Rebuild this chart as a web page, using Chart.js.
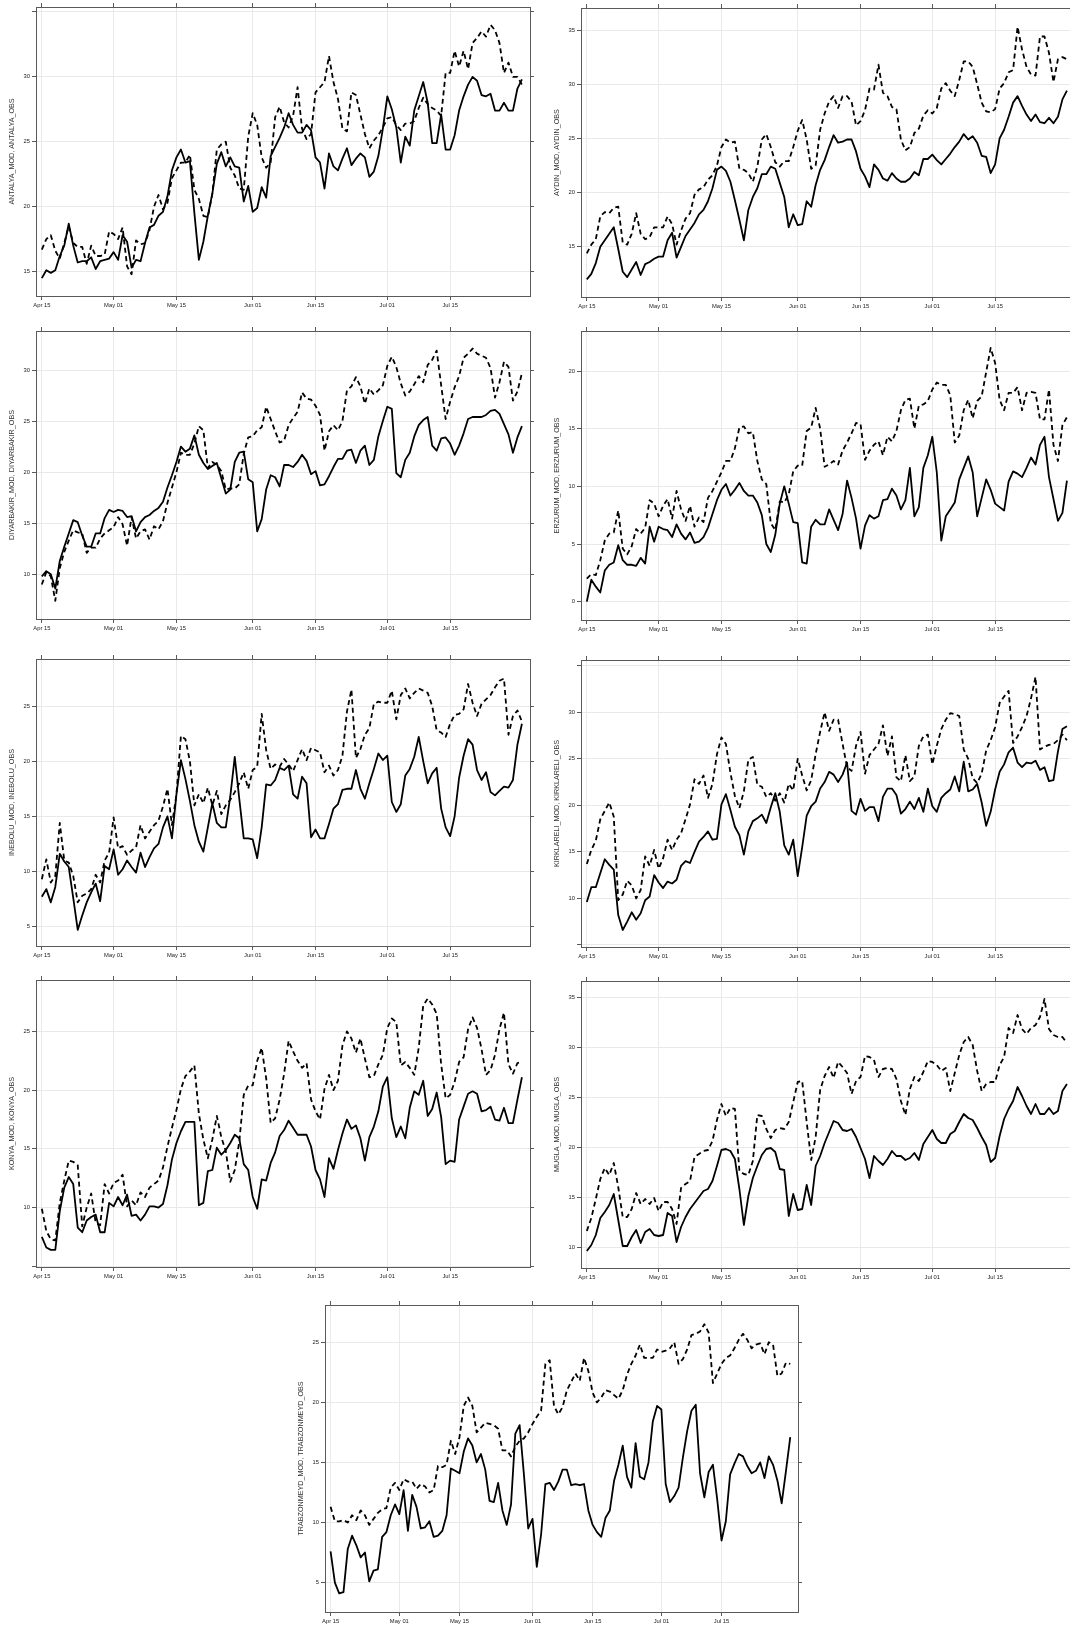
<!DOCTYPE html>
<html>
<head>
<meta charset="utf-8">
<script src="https://cdn.jsdelivr.net/npm/chart.js@4.4.1/dist/chart.umd.min.js"></script>
<style>
  html, body { margin: 0; padding: 0; background: #fff; overflow: hidden; }
  body { position: relative; width: 1070px; height: 1627px; }
  canvas { position: absolute; }
</style>
</head>
<body>
<script>
// daily series, Apr 15 .. Jul 31 (index 0 = Apr 15)
const tickDays = [0, 16, 30, 47, 61, 77, 91];
const tickLabels = ['Apr 15', 'May 01', 'May 15', 'Jun 01', 'Jun 15', 'Jul 01', 'Jul 15'];

const antalyaMod = [14.5, 15.1, 14.9, 15.1, 16.2, 17.0, 18.7, 17.0, 15.7, 15.8,
  15.8, 16.1, 15.2, 15.8, 15.9, 16.0, 16.5, 15.9, 17.8, 17.3,
  15.3, 15.9, 15.8, 17.2, 18.4, 18.6, 19.3, 19.6, 20.8, 22.8,
  23.8, 24.4, 23.4, 23.5, 19.5, 15.9, 17.3, 19.3, 21.0, 23.3,
  24.2, 23.1, 23.8, 23.1, 23.0, 20.4, 21.6, 19.6, 19.9, 21.5,
  20.7, 23.9, 24.6, 25.3, 26.1, 27.2, 26.3, 25.7, 25.7, 26.3,
  25.9, 23.8, 23.4, 21.4, 24.1, 23.1, 22.8, 23.7, 24.5, 23.2,
  23.7, 24.1, 23.8, 22.3, 22.7, 23.9, 26.0, 28.5, 27.5, 26.1,
  23.4, 25.4, 24.7, 27.4, 28.5, 29.6, 28.0, 24.9, 24.9, 27.1,
  24.4, 24.4, 25.5, 27.4, 28.5, 29.4, 30.0, 29.7, 28.6, 28.5,
  28.7, 27.4, 27.4, 28.0, 27.4, 27.4, 29.1, 29.8];
const antalyaObs = [16.7, 17.5, 17.8, 16.6, 16.0, 17.2, 18.5, 17.2, 16.9, 16.9,
  15.6, 17.0, 16.2, 16.2, 16.3, 18.1, 17.9, 17.5, 18.4, 15.4,
  14.8, 17.4, 17.1, 17.2, 18.2, 20.0, 20.9, 19.8, 20.3, 22.2,
  22.8, 23.4, 23.4, 24.0, 21.3, 20.6, 19.3, 19.2, 21.0, 24.4,
  24.8, 25.0, 23.0, 22.4, 21.4, 21.3, 25.4, 27.2, 26.3, 23.8,
  23.0, 23.4, 26.9, 27.7, 26.5, 26.1, 27.0, 29.2, 26.0, 25.2,
  25.6, 28.8, 29.2, 29.6, 31.6, 29.6, 28.3, 26.0, 25.8, 28.8,
  28.6, 27.1, 25.6, 24.5, 25.1, 25.5, 26.1, 26.8, 26.9, 26.3,
  25.9, 26.4, 26.4, 26.6, 27.6, 28.4, 27.9, 27.6, 27.4, 27.0,
  30.3, 30.3, 32.0, 30.8, 32.0, 30.6, 32.6, 33.0, 33.5, 33.1,
  34.0, 33.6, 32.6, 30.3, 31.1, 30.0, 30.0, 29.4];

const aydinMod = [12.0, 12.5, 13.5, 15.0, 15.6, 16.2, 16.8, 14.8, 12.7, 12.2,
  12.9, 13.6, 12.4, 13.4, 13.6, 13.9, 14.1, 14.1, 15.6, 16.3,
  14.0, 15.0, 16.0, 16.6, 17.2, 18.0, 18.4, 19.2, 20.4, 22.1,
  22.4, 22.0, 21.0, 19.3, 17.5, 15.6, 18.4, 19.6, 20.4, 21.7,
  21.7, 22.4, 22.2, 20.9, 19.6, 16.8, 18.0, 17.0, 17.1, 19.2,
  18.7, 20.7, 22.1, 23.0, 24.2, 25.3, 24.6, 24.7, 24.9, 24.9,
  23.8, 22.2, 21.5, 20.5, 22.6, 22.1, 21.3, 21.1, 21.8, 21.3,
  21.0, 21.0, 21.3, 21.9, 21.6, 23.1, 23.1, 23.5, 23.0, 22.6,
  23.1, 23.6, 24.2, 24.7, 25.4, 24.9, 25.2, 24.6, 23.4, 23.3,
  21.8, 22.6, 25.0, 25.8, 27.0, 28.3, 28.9, 28.0, 27.2, 26.6,
  27.2, 26.5, 26.4, 26.9, 26.4, 27.0, 28.6, 29.4];
const aydinObs = [14.4, 15.2, 15.7, 17.8, 18.2, 18.1, 18.6, 18.7, 15.4, 15.2,
  16.2, 18.1, 16.2, 15.7, 15.9, 16.8, 16.8, 16.8, 17.8, 17.1,
  15.2, 16.5, 17.6, 18.1, 19.8, 20.3, 20.5, 21.2, 21.6, 22.5,
  24.2, 24.9, 24.6, 24.7, 22.2, 22.1, 21.8, 21.0, 22.4, 24.9,
  25.4, 24.2, 22.8, 22.4, 22.9, 22.9, 24.2, 25.7, 26.7, 24.9,
  22.2, 22.5, 25.8, 27.3, 28.4, 28.9, 27.8, 28.9, 28.9, 28.4,
  26.2, 26.6, 27.6, 29.6, 29.5, 31.8, 29.2, 28.9, 27.9, 27.7,
  24.9, 23.9, 24.2, 25.5, 25.9, 27.1, 27.6, 27.3, 27.8, 29.6,
  30.1, 29.4, 28.9, 30.4, 32.1, 32.1, 31.6, 30.0, 28.3, 27.5,
  27.4, 27.7, 29.6, 30.1, 31.1, 31.3, 35.3, 33.2, 31.6, 30.9,
  30.8, 34.4, 34.4, 32.9, 30.2, 32.3, 32.5, 32.3];

const diyarbakirMod = [9.8, 10.3, 10.0, 8.6, 11.3, 12.7, 14.0, 15.3, 15.1, 13.8,
  12.7, 12.7, 14.0, 14.0, 15.5, 16.3, 16.1, 16.3, 16.2, 15.6,
  15.7, 14.2, 15.1, 15.6, 15.8, 16.2, 16.5, 17.1, 18.5, 19.7,
  21.0, 22.5, 22.0, 22.3, 23.6, 21.7, 20.9, 20.3, 20.6, 20.9,
  19.4, 17.9, 18.3, 21.0, 21.9, 22.0, 19.3, 19.0, 14.2, 15.4,
  18.3, 19.7, 19.5, 18.6, 20.7, 20.7, 20.5, 21.0, 21.7, 21.1,
  19.8, 20.1, 18.7, 18.8, 19.6, 20.5, 21.3, 21.3, 22.1, 22.2,
  20.9, 22.1, 22.6, 20.7, 21.2, 23.5, 25.0, 26.4, 26.2, 19.9,
  19.5, 21.2, 21.9, 23.5, 24.6, 25.1, 25.4, 22.6, 22.1, 23.3,
  23.4, 22.8, 21.7, 22.6, 23.8, 25.2, 25.4, 25.4, 25.4, 25.6,
  26.0, 26.1, 25.7, 24.7, 23.7, 21.9, 23.4, 24.5];
const diyarbakirObs = [9.0, 10.2, 9.8, 7.4, 10.6, 12.2, 13.3, 14.3, 14.1, 14.0,
  12.1, 12.6, 12.6, 13.5, 14.0, 14.3, 14.6, 15.6, 14.9, 12.8,
  15.6, 13.5, 14.2, 14.4, 13.4, 14.7, 14.4, 15.2, 17.0, 18.5,
  20.0, 21.9, 21.7, 21.7, 22.8, 24.5, 24.1, 20.4, 21.0, 20.7,
  20.1, 18.3, 18.4, 18.4, 18.8, 21.8, 23.4, 23.5, 24.1, 24.4,
  26.4, 25.2, 24.0, 22.9, 23.1, 24.6, 25.3, 25.9, 27.8, 27.2,
  27.1, 26.5, 25.6, 22.1, 24.0, 24.6, 24.1, 25.0, 28.0, 28.4,
  29.3, 28.4, 26.7, 28.2, 27.6, 28.0, 28.5, 30.4, 31.3, 30.3,
  28.7, 27.5, 27.9, 28.6, 29.4, 28.8, 30.5, 31.0, 31.9, 28.5,
  25.2, 26.9, 28.3, 29.4, 31.2, 31.6, 32.1, 31.6, 31.4, 31.2,
  30.2, 27.3, 28.8, 30.8, 30.3, 27.0, 27.9, 29.7];

const erzurumMod = [0.0, 1.9, 1.3, 0.8, 2.7, 3.2, 3.4, 4.9, 3.6, 3.2,
  3.2, 3.1, 3.8, 3.3, 6.5, 5.2, 6.5, 6.3, 6.2, 5.6,
  6.7, 5.9, 5.4, 6.0, 5.1, 5.2, 5.6, 6.4, 7.6, 8.8,
  9.7, 10.2, 9.2, 9.7, 10.3, 9.6, 9.2, 9.2, 8.6, 7.5,
  5.0, 4.3, 5.8, 8.5, 10.0, 8.5, 6.9, 6.8, 3.4, 3.3,
  6.5, 7.1, 6.7, 6.7, 8.0, 7.1, 6.2, 7.6, 10.5, 9.0,
  7.2, 4.6, 6.6, 7.5, 7.2, 7.4, 8.8, 8.9, 9.8, 9.2,
  8.0, 8.8, 11.6, 7.4, 8.2, 11.6, 12.7, 14.3, 11.2, 5.3,
  7.4, 8.0, 8.6, 10.6, 11.6, 12.6, 11.2, 7.4, 9.0, 10.6,
  9.7, 8.5, 8.2, 7.9, 10.4, 11.3, 11.1, 10.8, 11.6, 12.5,
  11.9, 13.6, 14.3, 10.8, 8.9, 7.0, 7.7, 10.5];
const erzurumObs = [2.0, 2.4, 2.3, 3.6, 5.3, 5.9, 6.0, 7.9, 4.6, 4.1,
  4.8, 6.3, 5.9, 6.4, 8.8, 8.5, 7.4, 8.3, 8.9, 7.2,
  9.6, 8.0, 7.0, 8.3, 6.5, 7.3, 6.9, 9.0, 9.6, 10.4,
  11.2, 12.2, 12.2, 13.3, 15.1, 15.2, 14.6, 14.7, 12.2, 10.6,
  10.2, 6.8, 6.2, 8.7, 8.6, 9.3, 11.3, 11.8, 11.8, 14.8,
  15.1, 16.8, 15.0, 11.7, 11.9, 12.2, 11.9, 13.1, 13.8, 14.6,
  15.5, 15.4, 12.3, 13.1, 13.6, 13.9, 12.7, 14.3, 13.9, 14.8,
  16.6, 17.5, 17.6, 15.0, 17.0, 17.1, 17.4, 18.4, 19.0, 18.8,
  18.8, 17.9, 13.8, 14.4, 16.6, 17.5, 15.9, 17.4, 17.8, 19.9,
  22.0, 20.7, 17.5, 16.6, 18.1, 18.1, 18.6, 16.6, 18.1, 18.2,
  18.1, 15.8, 15.8, 18.4, 13.6, 12.2, 15.3, 16.0];

const ineboluMod = [7.7, 8.4, 7.2, 8.6, 11.6, 10.9, 10.4, 7.6, 4.7, 6.0,
  7.2, 8.1, 8.9, 7.3, 10.5, 10.2, 12.0, 9.7, 10.2, 11.0,
  10.4, 9.9, 11.7, 10.4, 11.3, 12.1, 12.5, 14.0, 15.0, 13.0,
  17.0, 20.1, 18.4, 16.4, 14.2, 12.7, 11.8, 14.0, 16.2, 14.4,
  14.0, 14.0, 16.8, 20.4, 16.6, 13.0, 13.0, 12.9, 11.2, 14.0,
  17.9, 17.8, 18.3, 19.4, 19.2, 19.6, 17.0, 16.6, 18.6, 18.0,
  13.1, 13.8, 13.0, 13.0, 14.3, 15.7, 16.1, 17.4, 17.5, 17.5,
  19.2, 17.5, 16.6, 18.0, 19.3, 20.7, 20.1, 20.5, 16.3, 15.4,
  16.1, 18.7, 19.3, 20.4, 22.2, 20.0, 18.0, 18.9, 19.4, 15.7,
  14.0, 13.2, 15.0, 18.5, 20.5, 22.0, 21.5, 19.2, 18.3, 19.0,
  17.2, 16.9, 17.3, 17.7, 17.6, 18.3, 21.5, 23.4];
const ineboluObs = [9.3, 11.1, 9.0, 9.6, 14.4, 11.0, 10.8, 9.6, 7.2, 7.8,
  8.0, 8.4, 9.7, 9.0, 11.0, 11.7, 14.9, 12.1, 12.3, 11.5,
  11.9, 12.2, 14.2, 13.0, 13.6, 14.2, 14.6, 15.9, 17.5, 14.2,
  17.0, 22.3, 22.0, 20.0, 16.0, 17.0, 16.2, 17.6, 16.0, 17.3,
  15.2, 16.0, 16.5, 17.2, 18.0, 19.0, 17.5, 19.2, 19.5, 24.3,
  21.0, 19.3, 19.7, 19.5, 20.2, 19.7, 19.1, 20.1, 21.1, 20.1,
  21.2, 21.0, 20.8, 19.0, 19.6, 18.7, 19.2, 20.5, 24.5, 26.5,
  20.3, 21.1, 22.4, 23.0, 25.2, 25.4, 25.3, 25.3, 26.4, 23.8,
  26.0, 26.6, 25.7, 26.2, 26.6, 26.4, 26.2, 25.0, 22.8, 22.6,
  22.2, 23.4, 24.2, 24.3, 24.7, 27.0, 25.3, 24.1, 25.2, 25.6,
  26.0, 26.7, 27.3, 27.5, 22.4, 24.1, 24.6, 23.6];

const kirklareliMod = [9.6, 11.2, 11.2, 12.7, 14.2, 13.6, 13.1, 8.2, 6.6, 7.5,
  8.5, 7.7, 8.4, 9.8, 10.2, 12.5, 11.7, 11.1, 11.8, 11.6,
  12.0, 13.5, 14.0, 13.8, 15.0, 16.1, 16.6, 17.2, 16.3, 16.4,
  20.1, 21.2, 19.5, 17.7, 16.8, 14.7, 17.2, 18.3, 18.6, 19.0,
  18.1, 19.8, 21.3, 19.3, 15.7, 14.7, 16.3, 12.4, 15.5, 18.9,
  19.9, 20.4, 21.8, 22.5, 23.6, 23.3, 22.5, 23.3, 24.6, 19.4,
  19.0, 20.7, 19.4, 19.8, 19.8, 18.3, 20.9, 21.8, 21.8, 21.1,
  19.1, 19.6, 20.4, 19.6, 20.8, 19.3, 21.8, 19.9, 19.3, 20.8,
  21.3, 21.7, 23.1, 21.5, 24.7, 21.5, 21.7, 22.3, 20.3, 17.8,
  19.3, 21.7, 23.6, 24.4, 25.7, 26.2, 24.6, 24.1, 24.6, 24.5,
  24.8, 23.8, 24.1, 22.6, 22.7, 25.8, 28.2, 28.5];
const kirklareliObs = [13.7, 15.2, 16.2, 18.5, 19.4, 20.3, 18.8, 9.8, 10.4, 11.9,
  11.4, 10.0, 10.9, 14.5, 13.5, 15.2, 13.2, 14.3, 16.3, 15.2,
  16.3, 17.0, 18.5, 20.1, 22.8, 22.3, 23.2, 20.8, 22.3, 25.5,
  27.3, 26.6, 23.5, 21.0, 19.7, 21.5, 24.9, 25.2, 22.2, 22.0,
  20.9, 21.3, 20.5, 21.3, 20.3, 22.3, 21.6, 25.0, 23.2, 21.6,
  22.7, 25.5, 27.9, 30.0, 28.0, 29.2, 29.2, 26.6, 24.1, 23.7,
  26.4, 27.9, 23.4, 25.4, 26.0, 26.6, 28.6, 25.3, 27.4, 23.0,
  22.6, 25.4, 22.6, 23.1, 26.4, 27.4, 27.6, 24.4, 26.4, 28.2,
  29.2, 29.9, 29.8, 29.6, 26.0, 25.0, 22.9, 22.4, 23.4, 25.9,
  27.0, 28.4, 31.0, 31.7, 32.3, 26.7, 27.4, 28.4, 29.6, 31.5,
  33.8, 26.0, 26.3, 26.5, 26.6, 27.0, 27.6, 27.0];

const konyaMod = [7.5, 6.6, 6.4, 6.4, 9.7, 11.7, 12.6, 12.0, 8.3, 7.9,
  8.9, 9.2, 9.4, 7.9, 7.9, 10.4, 10.1, 10.9, 10.2, 11.1,
  9.3, 9.4, 8.9, 9.4, 10.1, 10.1, 10.0, 10.3, 11.9, 14.1,
  15.5, 16.5, 17.3, 17.3, 17.3, 10.2, 10.4, 13.1, 13.2, 15.1,
  14.5, 14.9, 15.5, 16.2, 15.9, 13.7, 13.2, 10.9, 9.9, 12.4,
  12.3, 13.8, 14.7, 16.1, 16.6, 17.4, 16.8, 16.2, 16.2, 16.2,
  15.2, 13.2, 12.4, 10.9, 14.2, 13.3, 14.9, 16.3, 17.5, 16.7,
  17.0, 15.9, 14.0, 16.0, 16.9, 18.2, 20.3, 21.1, 17.6, 16.0,
  16.9, 15.9, 18.5, 19.9, 19.6, 20.8, 17.8, 18.4, 19.8, 17.7,
  13.7, 14.0, 13.9, 17.5, 18.6, 19.7, 19.9, 19.7, 18.2, 18.3,
  18.6, 17.5, 17.4, 18.5, 17.2, 17.2, 19.2, 21.1];
const konyaObs = [9.9, 8.0, 7.3, 7.2, 10.4, 12.3, 14.0, 13.9, 13.6, 8.4,
  10.0, 11.2, 8.7, 8.5, 12.0, 11.2, 12.1, 12.3, 12.8, 10.1,
  10.6, 10.2, 11.3, 10.9, 11.7, 12.0, 12.3, 13.4, 15.2, 16.8,
  18.3, 20.1, 21.2, 21.6, 22.1, 18.0, 15.8, 14.2, 15.8, 17.8,
  16.0, 14.8, 12.2, 13.2, 15.6, 19.6, 20.4, 20.4, 22.5, 23.6,
  21.0, 17.2, 17.6, 19.2, 21.4, 24.2, 23.3, 22.5, 21.9, 22.3,
  19.2, 18.2, 17.5, 20.1, 21.3, 20.0, 20.8, 23.8, 25.0, 24.4,
  23.2, 24.4, 22.7, 21.1, 21.2, 22.2, 23.0, 25.3, 26.1, 25.8,
  22.1, 22.4, 21.9, 21.3, 23.6, 27.2, 27.8, 27.3, 26.5, 22.2,
  19.3, 19.6, 20.7, 22.4, 22.8, 25.2, 26.2, 25.3, 23.5, 21.3,
  21.7, 23.0, 25.2, 26.6, 22.2, 21.4, 22.3, 22.4];

const muglaMod = [9.6, 10.2, 11.2, 12.9, 13.5, 14.2, 15.3, 12.7, 10.1, 10.1,
  11.0, 11.7, 10.4, 11.5, 11.8, 11.2, 11.1, 11.2, 13.4, 13.1,
  10.5, 12.0, 13.0, 13.8, 14.4, 15.0, 15.6, 15.8, 16.6, 18.1,
  19.7, 19.8, 19.6, 18.8, 15.8, 12.2, 15.1, 16.9, 18.1, 19.2,
  19.8, 19.9, 19.5, 17.8, 17.7, 13.1, 15.3, 13.7, 13.8, 16.2,
  14.2, 18.1, 19.1, 20.4, 21.5, 22.6, 22.4, 21.7, 21.6, 21.8,
  21.0, 19.9, 18.8, 16.9, 19.1, 18.6, 18.2, 18.8, 19.6, 19.1,
  19.1, 18.7, 18.9, 19.4, 18.7, 20.3, 21.0, 21.7, 20.8, 20.4,
  20.4, 21.3, 21.6, 22.5, 23.3, 22.9, 22.7, 21.9, 21.0, 20.2,
  18.5, 18.9, 21.1, 22.8, 23.8, 24.6, 26.0, 25.1, 24.1, 23.3,
  24.3, 23.3, 23.3, 23.9, 23.3, 23.6, 25.6, 26.3];
const muglaObs = [11.6, 12.9, 14.8, 16.8, 17.9, 17.2, 18.4, 16.0, 13.0, 13.0,
  13.8, 15.4, 14.3, 14.8, 14.3, 14.9, 13.6, 14.5, 14.5, 13.8,
  12.3, 15.9, 16.3, 16.6, 19.0, 19.3, 19.6, 19.7, 20.6, 22.7,
  24.3, 23.1, 23.9, 23.8, 17.6, 17.3, 17.2, 18.6, 23.2, 23.1,
  21.8, 20.9, 21.7, 21.9, 21.8, 22.5, 24.5, 26.5, 26.6, 22.5,
  18.7, 21.0, 25.7, 27.1, 28.0, 26.9, 28.5, 28.0, 27.4, 25.3,
  26.6, 27.0, 29.1, 29.0, 28.7, 27.0, 27.8, 27.9, 27.8, 26.8,
  24.6, 23.2, 25.8, 27.0, 26.6, 27.5, 28.6, 28.5, 28.2, 27.6,
  27.9, 25.6, 27.4, 29.2, 30.5, 31.0, 30.2, 27.6, 25.6, 26.3,
  26.5, 26.5, 28.2, 29.0, 31.9, 31.4, 33.2, 31.8, 31.3, 31.9,
  32.2, 33.0, 34.8, 31.8, 31.2, 31.0, 31.0, 30.4];

const trabzonMod = [7.6, 5.0, 4.1, 4.2, 7.8, 8.9, 8.1, 7.1, 7.5, 5.1,
  6.0, 6.1, 8.8, 9.2, 10.6, 11.5, 10.7, 12.7, 9.3, 12.3,
  11.3, 9.5, 9.6, 10.1, 8.8, 8.9, 9.3, 10.6, 14.5, 14.3,
  14.1, 15.9, 17.0, 16.4, 15.0, 15.7, 14.4, 11.8, 11.7, 13.3,
  11.0, 9.8, 11.5, 17.4, 18.1, 14.0, 9.5, 10.3, 6.3, 9.0,
  13.2, 13.3, 12.7, 13.4, 14.4, 14.4, 13.1, 13.2, 13.1, 13.2,
  11.0, 9.8, 9.2, 8.8, 10.4, 11.0, 13.5, 14.8, 16.4, 13.8,
  12.9, 16.6, 13.8, 13.6, 15.0, 18.4, 19.7, 19.4, 13.2, 11.7,
  12.2, 12.9, 15.4, 17.6, 19.3, 19.8, 14.1, 12.1, 14.2, 14.8,
  11.9, 8.5, 10.1, 14.0, 14.9, 15.7, 15.5, 14.7, 14.1, 14.3,
  15.0, 13.7, 15.5, 14.8, 13.5, 11.6, 14.3, 17.1];
const trabzonObs = [11.3, 10.1, 10.1, 10.2, 10.0, 10.6, 10.2, 11.0, 10.6, 9.8,
  10.3, 10.8, 11.1, 11.2, 12.9, 13.3, 12.7, 13.6, 13.4, 13.4,
  12.8, 13.2, 13.0, 12.5, 12.7, 14.7, 14.6, 14.8, 16.8, 15.7,
  17.1, 19.7, 20.4, 19.7, 17.5, 17.9, 18.3, 18.2, 18.1, 17.8,
  16.0, 16.0, 15.5, 16.3, 16.8, 17.0, 17.5, 18.2, 18.8, 19.3,
  23.2, 23.5, 19.7, 19.0, 19.6, 21.0, 21.7, 22.4, 21.8, 23.7,
  22.6, 20.8, 20.0, 20.4, 21.0, 20.9, 20.6, 20.3, 21.0, 22.3,
  23.2, 23.9, 24.8, 23.7, 23.7, 23.7, 24.4, 24.2, 24.3, 24.5,
  25.0, 23.2, 23.6, 24.4, 25.6, 25.7, 25.9, 26.5, 25.8, 21.6,
  22.4, 23.2, 23.7, 23.9, 24.5, 25.2, 25.7, 25.2, 24.5, 24.8,
  24.9, 24.0, 25.0, 24.8, 22.2, 22.4, 23.3, 23.2];

// frame (plot box) of each panel in page pixels, plus its y range
const panels = [
  {name: 'ANTALYA', mod: antalyaMod, obs: antalyaObs, box: [36, 7, 530, 296], y: [13.12, 35.38]},
  {name: 'AYDIN', mod: aydinMod, obs: aydinObs, box: [581, 8, 1075, 297], y: [10.37, 37.03]},
  {name: 'DIYARBAKIR', mod: diyarbakirMod, obs: diyarbakirObs, box: [36, 331, 530, 619], y: [5.62, 33.82]},
  {name: 'ERZURUM', mod: erzurumMod, obs: erzurumObs, box: [581, 331, 1075, 620], y: [-1.59, 23.47]},
  {name: 'INEBOLU', mod: ineboluMod, obs: ineboluObs, box: [36, 659, 530, 946], y: [3.24, 29.27]},
  {name: 'KIRKLARELI', mod: kirklareliMod, obs: kirklareliObs, box: [581, 660, 1075, 947], y: [4.77, 35.62]},
  {name: 'KONYA', mod: konyaMod, obs: konyaObs, box: [36, 980, 530, 1267], y: [4.94, 29.38]},
  {name: 'MUGLA', mod: muglaMod, obs: muglaObs, box: [581, 981, 1075, 1268], y: [7.9, 36.6]},
  {name: 'TRABZONMEYD', mod: trabzonMod, obs: trabzonObs, box: [325, 1305, 798, 1612], y: [2.55, 28.1]}
];

const X_MIN = -1.3, X_MAX = 108.8;
const PAD_L = 36, PAD_T = 6, PAD_R = 6, PAD_B = 16;
const FRAME = '#5a5a5a';
const GRID = '#e9e9e9';
const FONT = '"Liberation Sans", Arial, sans-serif';

Chart.defaults.font.family = FONT;
Chart.defaults.color = '#222';

function fiveSteps(scale) {
  const t = [];
  for (let v = Math.ceil(scale.min / 5) * 5; v <= scale.max; v += 5) t.push({value: v});
  scale.ticks = t;
}

function dayTicks(scale) {
  scale.ticks = tickDays.map(v => ({value: v}));
}

function points(arr) {
  return arr.map((v, i) => ({x: i, y: v}));
}

function drawPanel(p) {
  const [l, t, r, b] = p.box;
  const canvas = document.createElement('canvas');
  const w = r - l + PAD_L + PAD_R;
  const h = b - t + PAD_T + PAD_B;
  canvas.width = w;
  canvas.height = h;
  canvas.style.left = (l - PAD_L) + 'px';
  canvas.style.top = (t - PAD_T) + 'px';
  canvas.style.width = w + 'px';
  canvas.style.height = h + 'px';
  document.body.appendChild(canvas);

  const line = {pointRadius: 0, borderColor: '#000', borderWidth: 1.8, tension: 0,
    fill: false, borderJoinStyle: 'round'};

  new Chart(canvas, {
    type: 'line',
    data: {
      datasets: [
        Object.assign({label: p.name + '_MOD', data: points(p.mod)}, line),
        Object.assign({label: p.name + '_OBS', data: points(p.obs), borderDash: [5, 3.5]}, line)
      ]
    },
    options: {
      responsive: false,
      animation: false,
      devicePixelRatio: 1,
      layout: {padding: 0, autoPadding: false},
      plugins: {legend: {display: false}, tooltip: {enabled: false}},
      scales: {
        x: {
          type: 'linear', position: 'bottom', min: X_MIN, max: X_MAX,
          afterBuildTicks: dayTicks,
          afterFit: s => { s.height = PAD_B; },
          ticks: {
            autoSkip: false, maxRotation: 0, padding: 1.5,
            font: {size: 5.8}, color: '#222',
            callback: v => tickLabels[tickDays.indexOf(v)]
          },
          grid: {color: GRID, tickColor: FRAME, tickLength: 4},
          border: {color: FRAME, width: 1}
        },
        xTop: {
          type: 'linear', position: 'top', min: X_MIN, max: X_MAX,
          afterBuildTicks: dayTicks,
          afterFit: s => { s.height = PAD_T; },
          ticks: {display: false},
          grid: {drawOnChartArea: false, tickColor: FRAME, tickLength: 4},
          border: {color: FRAME, width: 1}
        },
        y: {
          type: 'linear', position: 'left', min: p.y[0], max: p.y[1],
          afterBuildTicks: fiveSteps,
          afterFit: s => { s.width = PAD_L; },
          ticks: {
            padding: 2, font: {size: 5.8}, color: '#222',
            callback: function (v) {
              return (v - this.min < 1 || this.max - v < 1) ? '' : String(v);
            }
          },
          title: {
            display: true, text: p.name + '_MOD, ' + p.name + '_OBS',
            color: '#333', font: {size: 7.2}, padding: {top: 8.2, bottom: 0}
          },
          grid: {color: GRID, tickColor: FRAME, tickLength: 4},
          border: {color: FRAME, width: 1}
        },
        yRight: {
          type: 'linear', position: 'right', min: p.y[0], max: p.y[1],
          afterBuildTicks: fiveSteps,
          afterFit: s => { s.width = PAD_R; },
          ticks: {display: false},
          grid: {drawOnChartArea: false, tickColor: FRAME, tickLength: 4},
          border: {color: FRAME, width: 1}
        }
      }
    }
  });
}

panels.forEach(drawPanel);
</script>
</body>
</html>
